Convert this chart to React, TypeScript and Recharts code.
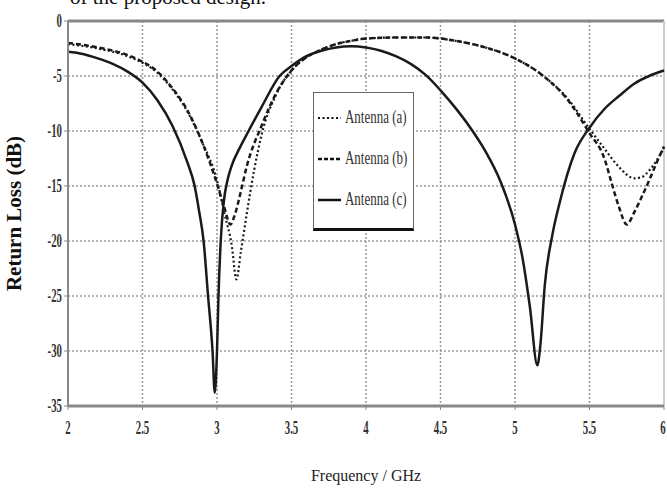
import React from "react";
import {
  LineChart,
  Line,
  XAxis,
  YAxis,
  CartesianGrid,
  ReferenceLine,
} from "recharts";

const xTicks = [2, 2.5, 3, 3.5, 4, 4.5, 5, 5.5, 6];
const yTicks = [0, -5, -10, -15, -20, -25, -30, -35];

const freqA = [2.0, 2.2, 2.4, 2.5, 2.6, 2.7, 2.8, 2.9, 3.0, 3.05, 3.1, 3.13, 3.16, 3.2, 3.25, 3.3, 3.4, 3.5, 3.6, 3.7, 3.8, 3.9, 4.0, 4.2, 4.4, 4.6, 4.8, 5.0, 5.2, 5.35, 5.5, 5.6, 5.7, 5.8, 5.85, 5.9, 5.95, 6.0];
const lossA = [-2.1, -2.5, -3.2, -3.8, -4.7, -6.2, -8.2, -11, -14.5, -17.5, -20.5, -23.5, -21, -17.5, -13.5, -10.3, -6.6, -4.5, -3.3, -2.6, -2.1, -1.8, -1.6, -1.5, -1.5, -1.8, -2.4, -3.4, -5.1, -7, -9.8, -11.6, -13.3, -14.3, -14.2, -13.6, -12.7, -11.5];

const freqB = [2.0, 2.2, 2.4, 2.5, 2.6, 2.7, 2.8, 2.9, 3.0, 3.05, 3.09, 3.12, 3.16, 3.2, 3.3, 3.4, 3.5, 3.6, 3.7, 3.8, 3.9, 4.0, 4.2, 4.4, 4.6, 4.8, 5.0, 5.2, 5.35, 5.5, 5.6, 5.65, 5.7, 5.75, 5.8, 5.85, 5.9, 5.95, 6.0];
const lossB = [-2.0, -2.4, -3.1, -3.7, -4.6, -6.1, -8.1, -11, -14.8, -17, -18.5, -17.6, -15.5, -13.2, -9.5, -6.5, -4.5, -3.3, -2.6, -2.1, -1.8, -1.6, -1.5, -1.5, -1.8, -2.4, -3.4, -5.1, -7.1, -10.2, -12.5, -14.8, -17, -18.5, -17.4, -16, -14.5, -12.9, -11.4];

const freqC = [2.0, 2.1, 2.2, 2.3, 2.4, 2.5, 2.6, 2.7, 2.8, 2.85, 2.88, 2.91, 2.94, 2.97, 2.985, 3.0, 3.01, 3.025, 3.045, 3.07, 3.1, 3.15, 3.2, 3.3, 3.42, 3.5, 3.6, 3.7, 3.8, 3.9, 4.0, 4.1, 4.2, 4.3, 4.4, 4.5, 4.6, 4.7, 4.8, 4.9, 5.0, 5.05, 5.1, 5.15, 5.17, 5.2, 5.25, 5.3, 5.4, 5.5, 5.6, 5.7, 5.8, 5.9, 6.0];
const lossC = [-2.8, -3.0, -3.4, -3.9, -4.6, -5.6, -7.2, -9.5, -12.8, -15, -17.3, -20, -25, -30, -33.8, -30, -25, -20, -16.5, -14.5, -13.1, -11.6, -10.3, -7.8, -5, -4.1, -3.2, -2.7, -2.4, -2.3, -2.4, -2.7, -3.2, -3.9, -4.9, -6.3, -7.9, -9.7, -11.8, -14.5, -18.5, -21.5, -26, -31.3, -29.5, -24, -19.5, -16.5, -12, -9.7, -8.0, -6.8, -5.7, -5.0, -4.5];

const seriesNames = ["Antenna (a)", "Antenna (b)", "Antenna (c)"];

const toData = (f: number[], v: number[]) => f.map((x, i) => ({ f: x, v: v[i] }));
const dataA = toData(freqA, lossA);
const dataB = toData(freqB, lossB);
const dataC = toData(freqC, lossC);

const FONT = "'Liberation Serif', 'DejaVu Serif', serif";

const LegendBox = () => {
  const items = [
    { name: seriesNames[0], dash: "2 2.5", w: 2 },
    { name: seriesNames[1], dash: "4 2", w: 2.5 },
    { name: seriesNames[2], dash: undefined, w: 2.5 },
  ];
  return (
    <div
      style={{
        position: "absolute",
        left: 313,
        top: 92,
        width: 101,
        height: 139,
        border: "1.5px solid #666",
        borderBottom: "3px solid #111",
        background: "#fff",
        boxSizing: "border-box",
        paddingTop: 4,
        overflow: "visible",
      }}
    >
      {items.map((it) => (
        <div
          key={it.name}
          style={{ position: "relative", height: 41 }}
        >
          <svg
            width={26}
            height={10}
            style={{ position: "absolute", left: 2, top: 16 }}
          >
            <line
              x1={2}
              y1={5}
              x2={25}
              y2={5}
              stroke="#111"
              strokeWidth={it.w}
              strokeDasharray={it.dash}
            />
          </svg>
          <span
            style={{
              position: "absolute",
              left: 31,
              top: 9,
              fontFamily: FONT,
              fontSize: 18,
              lineHeight: "22px",
              color: "#333",
              transform: "scaleX(0.72)",
              transformOrigin: "left center",
              whiteSpace: "nowrap",
            }}
          >
            {it.name}
          </span>
        </div>
      ))}
    </div>
  );
};

const XTick = (props: any) => {
  const { x, y, payload } = props;
  return (
    <text
      x={x}
      y={y + 18}
      textAnchor="middle"
      fontFamily={FONT}
      fontSize={18}
      fontWeight="bold"
      fill="#333"
      transform={`translate(${x} ${y}) scale(0.6 1) translate(${-x} ${-y})`}
    >
      {payload.value}
    </text>
  );
};

const YTick = (props: any) => {
  const { x, y, payload } = props;
  return (
    <text
      x={x}
      y={y + 6}
      textAnchor="end"
      fontFamily={FONT}
      fontSize={18}
      fontWeight="bold"
      fill="#333"
      transform={`translate(${x} ${y}) scale(0.6 1) translate(${-x} ${-y})`}
    >
      {payload.value}
    </text>
  );
};

export default function App() {
  return (
    <div
      style={{
        position: "absolute",
        left: 0,
        top: 0,
        width: 667,
        height: 502,
        background: "#fff",
        overflow: "hidden",
      }}
    >
      <div
        style={{
          position: "absolute",
          left: 70,
          top: -15,
          fontFamily: FONT,
          fontSize: 21,
          color: "#111",
          whiteSpace: "nowrap",
        }}
      >
        of the proposed design.
      </div>
      <LineChart
        width={667}
        height={502}
        margin={{ top: 21, right: 3, bottom: 0, left: 0 }}
        style={{ position: "absolute", left: 0, top: 0 }}
      >
        <CartesianGrid
          stroke="#999"
          strokeDasharray="2 2"
          strokeWidth={1.5}
          horizontalValues={yTicks}
          verticalValues={xTicks}
        />
        <XAxis
          dataKey="f"
          type="number"
          domain={[2, 6]}
          ticks={xTicks}
          allowDuplicatedCategory={false}
          tick={<XTick />}
          tickSize={4}
          tickLine={{ stroke: "#888" }}
          axisLine={{ stroke: "#888", strokeWidth: 3 }}
          tickMargin={6}
          label={{
            value: "Frequency / GHz",
            position: "insideBottom",
            offset: 21,
            style: { fontFamily: FONT, fontSize: 16, fill: "#222" },
          }}
          height={96}
        />
        <YAxis
          type="number"
          domain={[-35, 0]}
          ticks={yTicks}
          interval={0}
          tick={<YTick />}
          tickSize={4}
          tickLine={{ stroke: "#888" }}
          axisLine={{ stroke: "#888", strokeWidth: 2 }}
          width={68}
          tickMargin={2}
          label={{
            value: "Return Loss (dB)",
            angle: -90,
            position: "insideLeft",
            offset: 14,
            style: {
              fontFamily: FONT,
              fontSize: 21,
              fontWeight: "bold",
              fill: "#111",
              textAnchor: "middle",
            },
          }}
        />
        <ReferenceLine y={0} stroke="#888" strokeWidth={3} />
        <ReferenceLine x={6} stroke="#ccc" strokeWidth={2} />
        <Line
          data={dataA}
          dataKey="v"
          name={seriesNames[0]}
          type="monotone"
          stroke="#1a1a1a"
          strokeWidth={2.2}
          strokeDasharray="2 2.5"
          dot={false}
          isAnimationActive={false}
        />
        <Line
          data={dataB}
          dataKey="v"
          name={seriesNames[1]}
          type="monotone"
          stroke="#1a1a1a"
          strokeWidth={2.5}
          strokeDasharray="5 3"
          dot={false}
          isAnimationActive={false}
        />
        <Line
          data={dataC}
          dataKey="v"
          name={seriesNames[2]}
          type="monotone"
          stroke="#1a1a1a"
          strokeWidth={2.5}
          dot={false}
          isAnimationActive={false}
        />
      </LineChart>
      <LegendBox />
    </div>
  );
}
